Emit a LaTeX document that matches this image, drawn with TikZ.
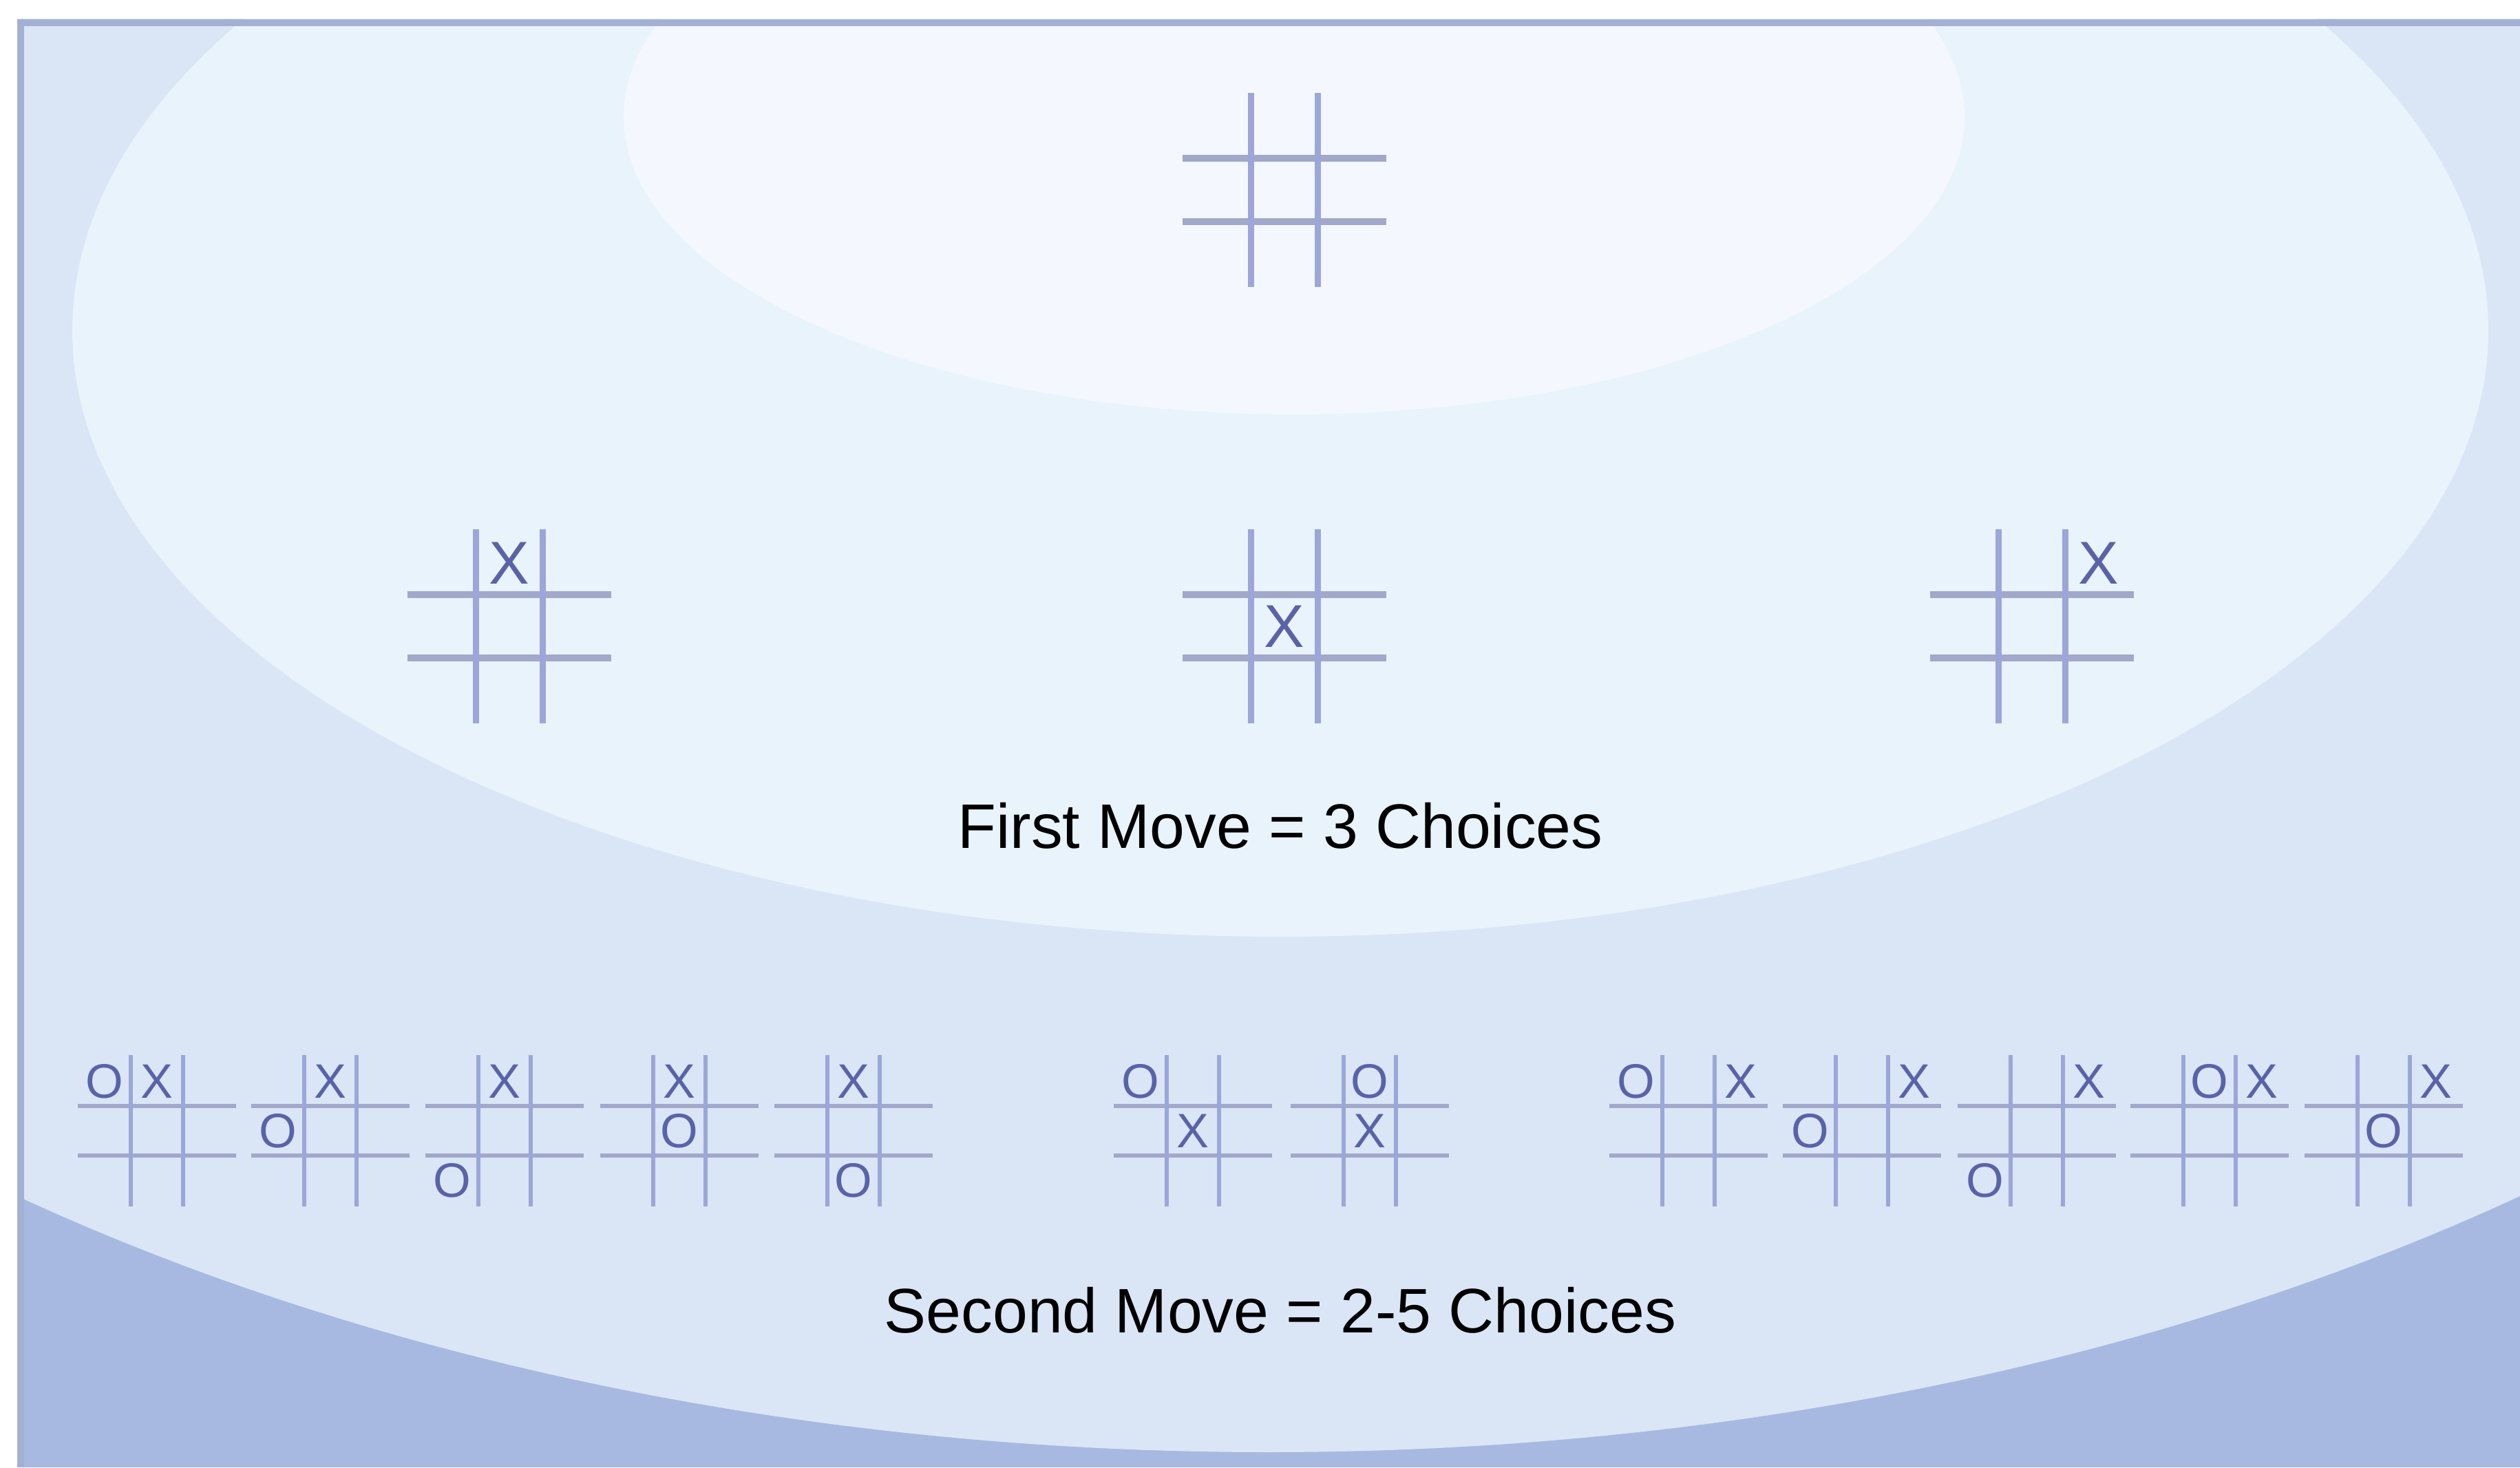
\documentclass[tikz,border=0pt]{standalone}
\usepackage{fontspec}
\setmainfont{Liberation Sans}
\usetikzlibrary{positioning}
\definecolor{bgdark}{HTML}{A7B9E0}
\definecolor{bgmid}{HTML}{DAE5F6}
\definecolor{bglight}{HTML}{E8F3FB}
\definecolor{bgtop}{HTML}{F4F8FE}
\definecolor{rim}{HTML}{A4B0D3}
\definecolor{gridh}{HTML}{A2A8CA}
\definecolor{gridv}{HTML}{9CA6D8}
\definecolor{ink}{HTML}{5A62A8}
% one tic-tac-toe grid: centre, scale, line width
\newcommand{\tttgrid}[3]{%
  \begin{scope}[shift={#1},scale=#2]
    \draw[gridh,line width=#3] (-1.48,0.46)--(1.48,0.46) (-1.48,-0.46)--(1.48,-0.46);
    \draw[gridv,line width=#3] (-0.485,-1.41)--(-0.485,1.41) (0.485,-1.41)--(0.485,1.41);
  \end{scope}}

\begin{document}
\begin{tikzpicture}[
    piece/.style={text=ink,inner sep=0pt,font=\fontsize{25}{25}\selectfont},
    smallpiece/.style={font=\fontsize{20}{20}\selectfont},
    movelabel/.style={inner sep=0pt,font=\fontsize{26}{30}\selectfont}]
  \useasboundingbox (0,0) rectangle (36.61,21.32);
  \fill[white] (0,0) rectangle (36.61,21.32);
  \begin{scope}
    \clip (0.25,0) rectangle (36.61,21.04);
    \fill[bgdark] (0.25,0) rectangle (36.61,21.04);
    \fill[bgmid] (18.43,18.42) ellipse (30 and 18.2);
    \fill[bglight] (18.60,16.52) ellipse (17.55 and 8.81);
    \fill[bgtop] (18.80,19.62) ellipse (9.74 and 4.32);
  \end{scope}
  \draw[rim,line width=2.8pt] (0.30,0) -- (0.30,20.99) -- (36.61,20.99);
  % empty board
  \tttgrid{(18.66,18.56)}{1}{2.6pt}
  % first move
  \foreach \bx/\xcol/\xrow [count=\k] in {7.40/0/1, 18.66/0/0, 29.52/1/1} {
    \tttgrid{(\bx,12.22)}{1}{2.6pt}
    \node[piece] (fx\k) at (\bx+\xcol*0.97,12.22+\xrow*0.92) {X};}
  \node[movelabel] (first) at (18.60,9.32) {First Move = 3 Choices};
  % second move
  \foreach \bx/\ocol/\orow/\xcol/\xrow [count=\k] in {
      2.28/-1/1/0/1, 4.80/-1/0/0/1, 7.33/-1/-1/0/1, 9.87/0/0/0/1, 12.40/0/-1/0/1,
      17.33/-1/1/0/0, 19.90/0/1/0/0,
      24.53/-1/1/1/1, 27.05/-1/0/1/1, 29.59/-1/-1/1/1, 32.10/0/1/1/1, 34.63/0/0/1/1} {
    \tttgrid{(\bx,4.89)}{0.78}{1.8pt}
    \node[piece,smallpiece] (so\k) at (\bx+\ocol*0.757,4.89+\orow*0.718) {O};
    \node[piece,smallpiece] (sx\k) at (\bx+\xcol*0.757,4.89+\xrow*0.718) {X};}
  \node[movelabel] (second) at (18.60,2.28) {Second Move = 2-5 Choices};
\end{tikzpicture}
\end{document}
